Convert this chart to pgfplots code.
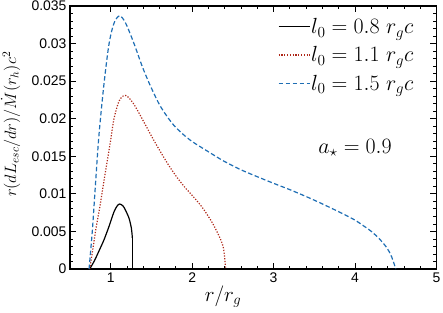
\RequirePackage{fix-cm}
\documentclass[border=0pt]{standalone}
\usepackage{pgfplots}
\pgfplotsset{compat=1.18}
\usepackage{fontspec}
\newfontfamily\tickfont{Liberation Sans}
\definecolor{cblue}{RGB}{30,110,180}
\definecolor{cred}{RGB}{175,40,25}
\begin{document}
\begin{tikzpicture}
\useasboundingbox (-70bp,-44bp) rectangle (373bp,269bp);
\begin{axis}[
  scale only axis,
  width=366.5bp, height=263bp,
  xmin=0.5, xmax=5, ymin=0, ymax=0.035,
  xtick={1,2,3,4,5},
  ytick={0,0.005,0.01,0.015,0.02,0.025,0.03,0.035},
  minor x tick num=4, minor y tick num=4,
  tick align=inside, tick pos=both,
  major tick length=6bp, minor tick length=3.5bp,
  axis line style={line width=1.1bp},
  every tick/.style={line width=0.8bp, black},
  scaled y ticks=false,
  yticklabel style={/pgf/number format/fixed, /pgf/number format/precision=3},
  /pgf/number format/assume math mode=true,
  ticklabel style={font=\tickfont\fontsize{14}{14}\selectfont},
  xlabel={$r/r_g$},
  ylabel={$r(dL_{esc}/dr)/\dot{M}(r_h)c^2$},
  every axis x label/.style={at={(axis description cs:0.4175,-0.104)}, anchor=center, font=\fontsize{21}{21}\selectfont},
  every axis y label/.style={at={(axis description cs:-0.162,0.55)}, rotate=90, anchor=center, font=\fontsize{16.5}{16.5}\selectfont},
  legend image code/.code={\draw[#1] (0bp,0bp) -- (31bp,0bp);},
  legend cell align=left,
  legend style={draw=none, fill=none, anchor=north west, at={(axis description cs:0.567,0.957)},
    font=\fontsize{22}{22}\selectfont, row sep=9.5bp, inner sep=0pt,
    nodes={inner sep=1bp}},
]
\addplot[black, line width=1.2bp, smooth, tension=0.5] coordinates {
(0.742,0) (0.80,0.0011) (0.86,0.0025) (0.918,0.0039) (0.98,0.0057) (1.04,0.0076) (1.08,0.0084) (1.11,0.00865) (1.15,0.0084) (1.18,0.00785) (1.225,0.00675) (1.254,0.0054) (1.266,0.0041)};
\addlegendentry{$l_0 = 0.8\ r_g c$}
\addplot[cred, line width=1.2bp, dash pattern=on 1.2bp off 1.6bp, smooth, tension=0.5] coordinates {
(0.742,0) (0.78,0.0026) (0.816,0.0052) (0.87,0.0085) (0.918,0.0118) (0.97,0.0152) (1.0,0.0172) (1.04,0.0200) (1.10,0.0223) (1.15,0.0230) (1.184,0.0231) (1.23,0.0227) (1.286,0.0219) (1.35,0.0207) (1.42,0.0193) (1.51,0.0175) (1.60,0.0158) (1.70,0.0140) (1.80,0.0124) (1.90,0.0110) (2.0,0.0098) (2.08,0.0088) (2.15,0.0078) (2.25,0.0061) (2.33,0.0044) (2.38,0.0030) (2.40,0.0014) (2.41,0)};
\addlegendentry{$l_0 = 1.1\ r_g c$}
\addplot[cblue, line width=1.2bp, dash pattern=on 4.5bp off 2.5bp, smooth, tension=0.5] coordinates {
(0.734,0) (0.775,0.0052) (0.816,0.0118) (0.857,0.0180) (0.918,0.0247) (0.98,0.0300) (1.04,0.0327) (1.11,0.0337) (1.184,0.0327) (1.286,0.0300) (1.389,0.0269) (1.49,0.0243) (1.613,0.0216) (1.777,0.0191) (1.97,0.0172) (2.2,0.0156) (2.39,0.01435) (2.60,0.0132) (2.80,0.01228) (3.0,0.0114) (3.21,0.01051) (3.45,0.0094) (3.65,0.0084) (3.86,0.0073) (4.0,0.0065) (4.11,0.0057) (4.2,0.0050) (4.3,0.0040) (4.395,0.00275) (4.45,0.0016) (4.50,0)};
\addlegendentry{$l_0 = 1.5\ r_g c$}
\addplot[black, line width=1.2bp, forget plot] coordinates {(1.266,0.0041) (1.266,0)};
\node[font=\fontsize{22}{22}\selectfont] at (axis cs:4.0,0.0161) {$a_\star = 0.9$};
\end{axis}
\end{tikzpicture}
\end{document}
